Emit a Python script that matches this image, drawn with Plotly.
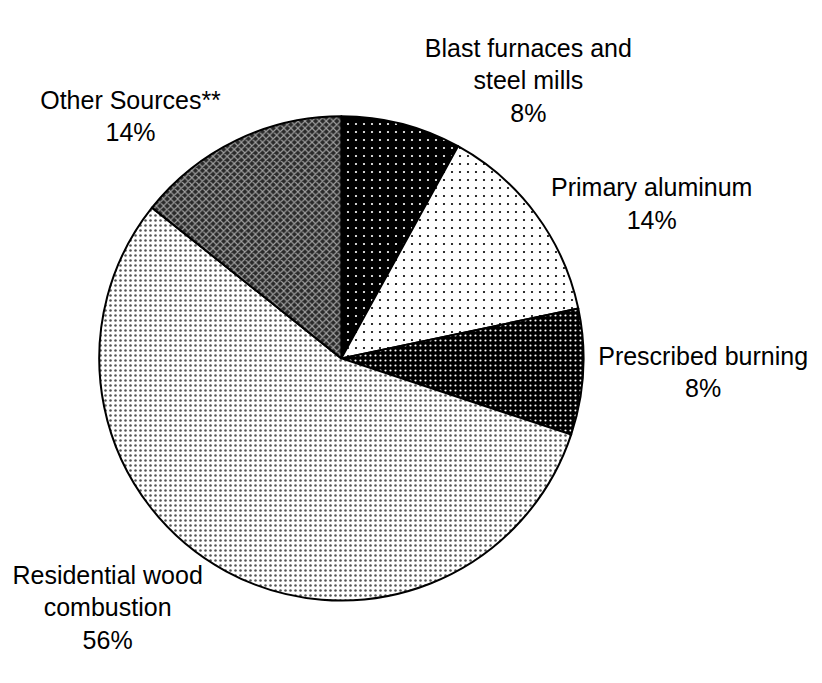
import plotly.graph_objects as go

# Data
sources = ['Blast furnaces and<br>steel mills', 'Primary aluminum', 'Prescribed burning',
           'Residential wood<br>combustion', 'Other Sources**']
shares = [8.0, 13.7, 8.4, 55.6, 14.3]

# Fill patterns (black and white print style)
bg_colors = ['#000000', '#ffffff', '#000000', '#ffffff', '#2a2a2a']
fg_colors = ['#ffffff', '#000000', '#ffffff', '#555555', '#a0a0a0']
shapes = ['.', '.', '.', '.', 'x']
sizes = [8, 8, 5, 5, 5]
solidities = [0.06, 0.06, 0.15, 0.2, 0.4]

fig = go.Figure(go.Pie(
    labels=sources,
    values=shares,
    text=sources,
    texttemplate='%{text}<br>%{percent:.0%}',
    textposition='outside',
    sort=False,
    direction='clockwise',
    rotation=0,
    showlegend=False,
    hoverinfo='label+percent',
    outsidetextfont=dict(family='Liberation Sans, Arial, sans-serif', size=25, color='black'),
    marker=dict(colors=bg_colors,
                line=dict(color='black', width=2),
                pattern=dict(shape=shapes, bgcolor=bg_colors, fgcolor=fg_colors,
                             size=sizes, solidity=solidities, fillmode='replace')),
    domain=dict(x=[0.090, 0.693], y=[0.124, 0.850])
))

fig.update_layout(
    width=822,
    height=683,
    margin=dict(l=0, r=0, t=0, b=0),
    paper_bgcolor='white',
    plot_bgcolor='white',
    font=dict(family='Liberation Sans, Arial, sans-serif', size=25, color='black')
)

fig.write_html("out.html")
